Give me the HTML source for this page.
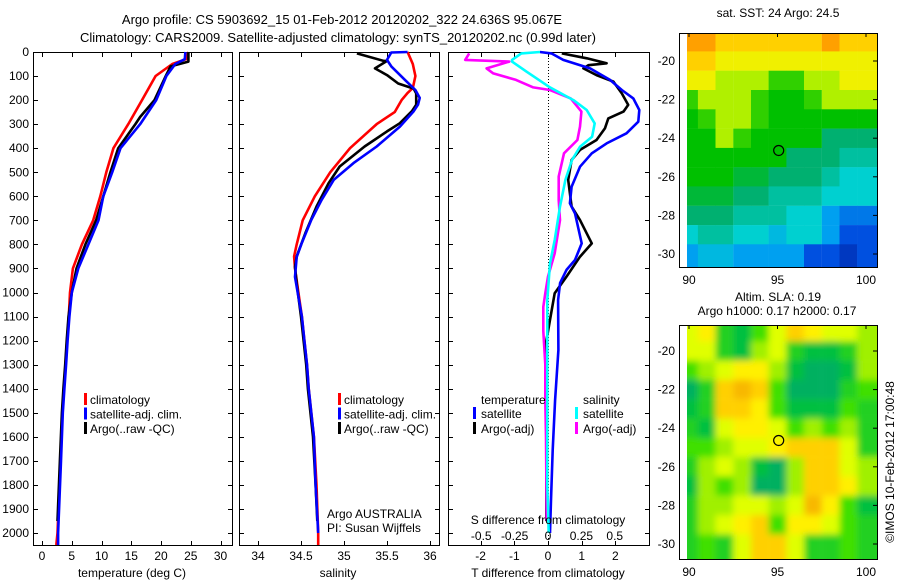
<!DOCTYPE html>
<html><head><meta charset="utf-8"><style>
body{margin:0;background:#fff;width:900px;height:580px;overflow:hidden}
svg{display:block;font-family:"Liberation Sans",sans-serif}
text{font-size:12px;fill:#000}
</style></head><body>
<svg id="c" width="900" height="580" xmlns="http://www.w3.org/2000/svg">
<defs><filter id="blur3" x="-5%" y="-5%" width="110%" height="110%"><feGaussianBlur stdDeviation="3.5"/></filter></defs>
<text x="342" y="24" text-anchor="middle" style="font-size:13px">Argo profile: CS 5903692_15 01-Feb-2012 20120202_322 24.636S 95.067E</text>
<text x="338" y="42" text-anchor="middle" style="font-size:13px">Climatology: CARS2009. Satellite-adjusted climatology: synTS_20120202.nc (0.99d later)</text>
</svg>
<script>
// ---------- DATA ----------
const tDepth=[0,30,50,100,200,300,400,500,600,700,800,900,1000,1100,1200,1300,1400,1500,1700,2000,2050];
const tClim=[24.6,24.2,21.9,19.1,16.8,14.5,12.0,10.8,9.8,8.6,6.7,5.2,4.7,4.5,4.2,3.95,3.7,3.45,3.1,2.6,2.4];
const tSat=[24.1,24.0,22.4,20.9,19.2,16.5,13.2,11.8,10.3,9.5,7.8,6.1,5.0,4.6,4.3,4.05,3.76,3.49,3.2,2.7,2.7];
const tArgoDepth=[0,40,60,100,200,270,300,400,500,600,700,800,900,1000,1100,1200,1300,1400,1500,1700,1950];
const tArgo=[24.6,24.6,21.6,20.8,18.9,16.5,15.7,12.8,11.5,10.3,9.1,7.3,5.8,5.0,4.45,4.15,3.9,3.6,3.35,3.0,2.6];

const sDepth=[0,50,100,150,170,200,250,300,400,500,600,700,800,850,900,1000,1100,1200,1300,1400,1500,1600,1800,2000,2050];
const sClim=[35.74,35.80,35.83,35.80,35.74,35.67,35.59,35.38,35.07,34.84,34.66,34.52,34.45,34.42,34.43,34.47,34.51,34.54,34.57,34.59,34.62,34.65,34.68,34.70,34.70];
const sSatDepth=[0,2,33,60,117,158,191,219,246,310,393,462,532,615,698,793,852,935,1018,1100,1200,1300,1400,1500,1600,1800,2000];
const sSat=[35.74,35.55,35.50,35.55,35.71,35.83,35.88,35.86,35.81,35.65,35.38,35.11,34.88,34.74,34.62,34.51,34.45,34.43,34.47,34.51,34.54,34.57,34.59,34.62,34.65,34.67,34.70];
const sArgoDepth=[6,37,37,68,96,131,152,172,219,246,296,330,393,476,546,643,754,850,893,963,1100,1200,1300,1400,1600,1800,1950];
const sArgo=[35.15,35.46,35.50,35.36,35.50,35.63,35.81,35.84,35.84,35.79,35.65,35.50,35.24,34.95,34.82,34.68,34.55,34.45,34.43,34.45,34.50,34.53,34.56,34.58,34.64,34.67,34.69];

const dTSatDepth=[0,6,33,68,116,158,193,241,290,338,380,421,477,560,629,671,796,865,906,960,1031,1239,1447,1655,1863,2000];
const dTSat=[-0.24,0.1,0.45,1.25,1.84,2.19,2.53,2.71,2.68,2.33,1.74,1.30,0.95,0.70,0.65,0.80,1.00,0.80,0.55,0.36,0.30,0.31,0.21,0.14,0.09,0.06];
const dTArgoDepth=[6,26,47,55,68,96,123,172,220,248,276,317,366,407,449,532,643,699,796,851,934,1003,1114,1210,1400,1700,1950];
const dTArgo=[0.41,1.15,1.74,1.2,1.05,1.44,1.94,2.19,2.38,2.24,1.79,1.69,1.44,0.95,0.70,0.60,0.70,0.95,1.30,0.95,0.55,0.20,0.06,-0.06,-0.05,-0.05,-0.05];
const dSSatDepth=[0,6,33,40,82,147,200,241,297,352,394,449,532,643,782,879,1031,1400,1800,2000];
const dSSat=[-0.06,-0.2,-0.27,-0.27,-0.16,0.015,0.19,0.29,0.35,0.33,0.24,0.18,0.13,0.09,0.05,0.015,-0.005,-0.005,-0.005,0.005];
const dSArgoDepth=[6,33,40,68,89,116,147,158,193,248,310,366,421,518,615,699,837,934,1003,1060,1160,1300,1450,1600,1950];
const dSArgo=[-0.59,-0.62,-0.29,-0.46,-0.41,-0.24,-0.11,0.015,0.17,0.25,0.24,0.22,0.12,0.08,0.08,0.09,0.05,0.0,-0.02,-0.035,-0.035,-0.02,-0.02,-0.015,-0.01];

const depthTicks=[0,100,200,300,400,500,600,700,800,900,1000,1100,1200,1300,1400,1500,1600,1700,1800,1900,2000];
const tTicks=[0,5,10,15,20,25,30];
const sTicks=[34,34.5,35,35.5,36];
const dTTicks=[-2,-1,0,1,2];
const dSTicks=[-0.5,-0.25,0,0.25,0.5];
const dSTickLabels=["-0.5","-0.25","0","0.25","0.5"];
const lonTicks=[90,95,100];
const latTicks=[-20,-22,-24,-26,-28,-30];
const mapLons=[90,91,92,93,94,95,96,97,98,99,100];
const mapLats=[-19,-20,-21,-22,-23,-24,-25,-26,-27,-28,-29,-30];
const sstGrid=[
[10,10,9,9,9,9,9,9,10,9,9],
[9,9,8,8,8,8,8,8,8,8,8],
[8,8,7,7,7,6,6,7,7,8,8],
[6,7,7,7,6,5,5,6,7,7,7],
[5,6,7,7,6,5,5,5,5,5,5],
[5,5,7,6,5,5,5,5,4,4,4],
[5,5,5,5,5,5,4,4,4,3.5,3.5],
[5,5,5,4.5,4.5,4,4,4,3.5,3,3],
[4.5,4.5,4.5,4,4,3.5,3.5,3.5,3,3,3],
[4,4,4,3.5,3.5,3.5,3,3,2,1.5,1.5],
[3,3.5,3.5,3,3,2.5,3,3,2,1,1],
[2,2.5,2.5,2,2,2,2,1,1,0.5,1]];
const slaGrid=[
[6,7,3,2,4,6,8,7,6,6,5],
[6,6,3,2,5,6,3,2,2,3,5],
[4,5,6,7,7,5,2,1,1,2,5],
[1,3,8,9,8,4,1,1,1,3,4],
[2,3,8,8,7,4,2,2,2,4,3],
[3,2,6,7,7,6,4,5,4,5,3],
[4,4,5,6,6,7,8,8,8,6,3],
[3,5,6,5,2,1,5,8,8,6,5],
[2,5,4,5,1,1,5,8,8,7,5],
[3,5,5,6,6,5,6,9,7,4,2],
[3,5,6,7,8,4,7,7,6,4,3],
[3,4,3,6,8,8,6,3,3,4,3]];
const argoLon=95.067, argoLat=-24.636;

// ---------- DRAW ----------
const svg=document.getElementById('c');const NS='http://www.w3.org/2000/svg';
function el(tag,attrs,parent){const e=document.createElementNS(NS,tag);for(const k in attrs)e.setAttribute(k,attrs[k]);(parent||svg).appendChild(e);return e;}
function txt(x,y,s,anchor,parent){const t=el('text',{x:x,y:y,'text-anchor':anchor||'start'},parent);t.textContent=s;return t;}
const Y0=52,Y1=545;
const yD=d=>Y0+d*0.2405;
const xT=t=>42+t*5.95;
const xS=s=>258+(s-34)*86;
const xDT=v=>548+v*33.7;
const xDS=v=>548+v*133.5;

function panel(name,x0,x1,ticksX,fx,labels){
  const g=el('g',{});
  
  
  el('rect',{x:x0+0.5,y:Y0+0.5,width:x1-x0,height:Y1-Y0,fill:'none',stroke:'#000','stroke-width':1},g);
  depthTicks.forEach(d=>{const y=Math.round(yD(d))+0.5;
    el('line',{x1:x0,y1:y,x2:x0+5,y2:y,stroke:'#000'},g);
    el('line',{x1:x1-4,y1:y,x2:x1,y2:y,stroke:'#000'},g);});
  ticksX.forEach((v,i)=>{const x=Math.round(fx(v))+0.5;
    el('line',{x1:x,y1:Y0,x2:x,y2:Y0+5,stroke:'#000'},g);
    el('line',{x1:x,y1:Y1-4,x2:x,y2:Y1,stroke:'#000'},g);
    const t=txt(fx(v),560,labels?labels[i]:String(v),'middle',g);
    
    });
  return g;
}
function line(g,xs,ds,fx,color,name){
  const p=xs.map((v,i)=>(fx(v)).toFixed(1)+','+yD(ds[i]).toFixed(1)).join(' ');
  const e=el('polyline',{points:p,fill:'none',stroke:color,'stroke-width':2.6,'stroke-linejoin':'round'},g);
  
  
}
depthTicks.forEach(d=>{const t=txt(29,yD(d)+4,String(d),'end');
  
  });

const p1=panel('temperature-panel',33,232,tTicks,xT);
line(p1,tClim,tDepth,xT,'#f00','temperature-climatology-line');
line(p1,tArgo,tArgoDepth,xT,'#000','temperature-argo-line');
line(p1,tSat,tDepth,xT,'#00f','temperature-satellite-line');
const xt1=txt(132,577,'temperature (deg C)','middle');


const p2=panel('salinity-panel',239,439,sTicks,xS);
line(p2,sClim,sDepth,xS,'#f00','salinity-climatology-line');
line(p2,sArgo,sArgoDepth,xS,'#000','salinity-argo-line');
line(p2,sSat,sSatDepth,xS,'#00f','salinity-satellite-line');
const xt2=txt(338,577,'salinity','middle');

const a1=txt(327,518,'Argo AUSTRALIA');
const a2=txt(327,532,'PI: Susan Wijffels');

function legend(x,items){items.forEach((it,i)=>{
  const y=399+i*14.5;
  const r=el('rect',{x:x,y:y-6,width:3,height:12,fill:it[0]});
  
  const t=txt(x+6,y+5,it[1]);});}
const lg=[['#f00','climatology'],['#00f','satellite-adj. clim.'],['#000','Argo(..raw -QC)']];
legend(84,lg);legend(338,lg);

const p3=panel('difference-panel',448,649,dTTicks,xDT);
el('line',{x1:548.5,y1:Y0,x2:548.5,y2:Y1,stroke:'#000','stroke-dasharray':'1,2'},p3);
line(p3,dTArgo,dTArgoDepth,xDT,'#000','t-diff-argo-line');
line(p3,dTSat,dTSatDepth,xDT,'#00f','t-diff-satellite-line');
line(p3,dSArgo,dSArgoDepth,xDS,'#f0f','s-diff-argo-line');
line(p3,dSSat,dSSatDepth,xDS,'#0ff','s-diff-satellite-line');
dSTicks.forEach((v,i)=>{const t=txt(xDS(v),540,dSTickLabels[i],'middle');});
const sd=txt(548,524,'S difference from climatology','middle');
const td=txt(548,577,'T difference from climatology','middle');
[['temperature',481,404],['salinity',583,404]].forEach(a=>{const t=txt(a[1],a[2],a[0]);});
[[473,413,'#00f','satellite'],[473,428,'#000','Argo(-adj)'],[575,413,'#0ff','satellite'],[575,428,'#f0f','Argo(-adj)']].forEach(a=>{
  const r=el('rect',{x:a[0],y:a[1]-6,width:3,height:12,fill:a[2]});
  const t=txt(a[0]+8,a[1]+5,a[3]);});

function lerpColor(stops,v){
  v=Math.max(0,Math.min(stops.length-1,v));const i=Math.min(Math.floor(v),stops.length-2),f=v-i;
  const a=stops[i],b=stops[i+1];
  return 'rgb('+[0,1,2].map(k=>Math.round(a[k]+(b[k]-a[k])*f)).join(',')+')';}
const sstStops=[[0,32,160],[0,80,224],[0,160,240],[0,208,208],[0,176,112],[0,192,0],[48,208,0],[176,240,0],[240,240,0],[255,208,0],[255,160,0]];
const slaStops=[[0,160,128],[0,176,96],[0,192,64],[32,208,32],[64,224,0],[160,240,0],[224,255,0],[255,240,0],[255,208,0],[248,184,0],[240,160,0]];
function map(name,top,grid,stops,latAt20,blur){
  const g=el('g',{});
  
  
  const xL=lon=>689+(lon-90)*17.7;
  const yL=lat=>latAt20+(-20-lat)*19.3;
  const cp='clip-'+name;
  const cl=el('clipPath',{id:cp},g);el('rect',{x:687,y:top,width:190,height:234},cl);
  const outer=el('g',{'clip-path':'url(#'+cp+')'},g);
  const cg=el('g',blur?{filter:'url(#blur3)'}:{},outer);
  grid.forEach((row,r)=>row.forEach((v,c)=>{
    const x=xL(mapLons[c]-0.5)-(c===0?12:0),y=yL(mapLats[r]+0.5)-(r===0?12:0);
    const w=17.9+(c===0?12:0)+(c===row.length-1?14:0);
    const h=19.5+(r===0?12:0)+(r===grid.length-1?14:0);
    const cell=el('rect',{x:x.toFixed(1),y:y.toFixed(1),width:w.toFixed(1),height:h.toFixed(1),fill:lerpColor(stops,v)},cg);
    
    
  }));
  el('rect',{x:679.5,y:top+0.5,width:198,height:234,fill:'none',stroke:'#000'},g);
  latTicks.forEach(l=>{const y=yL(l);
    el('line',{x1:877,y1:y,x2:873,y2:y,stroke:'#000'},g);
    const t=txt(675,y+4,String(l),'end',g);});
  lonTicks.forEach(l=>{const x=xL(l);
    el('line',{x1:x,y1:top,x2:x,y2:top+4,stroke:'#000'},g);
    const t=txt(x,top+251,String(l),'middle',g);});
  const m=el('circle',{cx:xL(argoLon),cy:yL(argoLat),r:5,fill:'none',stroke:'#000','stroke-width':1.2},g);
  
}
map('sst-map',33,sstGrid,sstStops,61,false);
map('sla-map',325,slaGrid,slaStops,351,true);
const mt1=txt(778,17,'sat. SST: 24  Argo: 24.5','middle');
const mt2=txt(778,301,'Altim. SLA: 0.19','middle');
const mt3=txt(777,315,'Argo h1000: 0.17 h2000: 0.17','middle');
const cr=txt(0,0,'©IMOS 10-Feb-2012 17:00:48','middle');cr.setAttribute('transform','translate(894,462) rotate(-90)');

</script>
</body></html>
